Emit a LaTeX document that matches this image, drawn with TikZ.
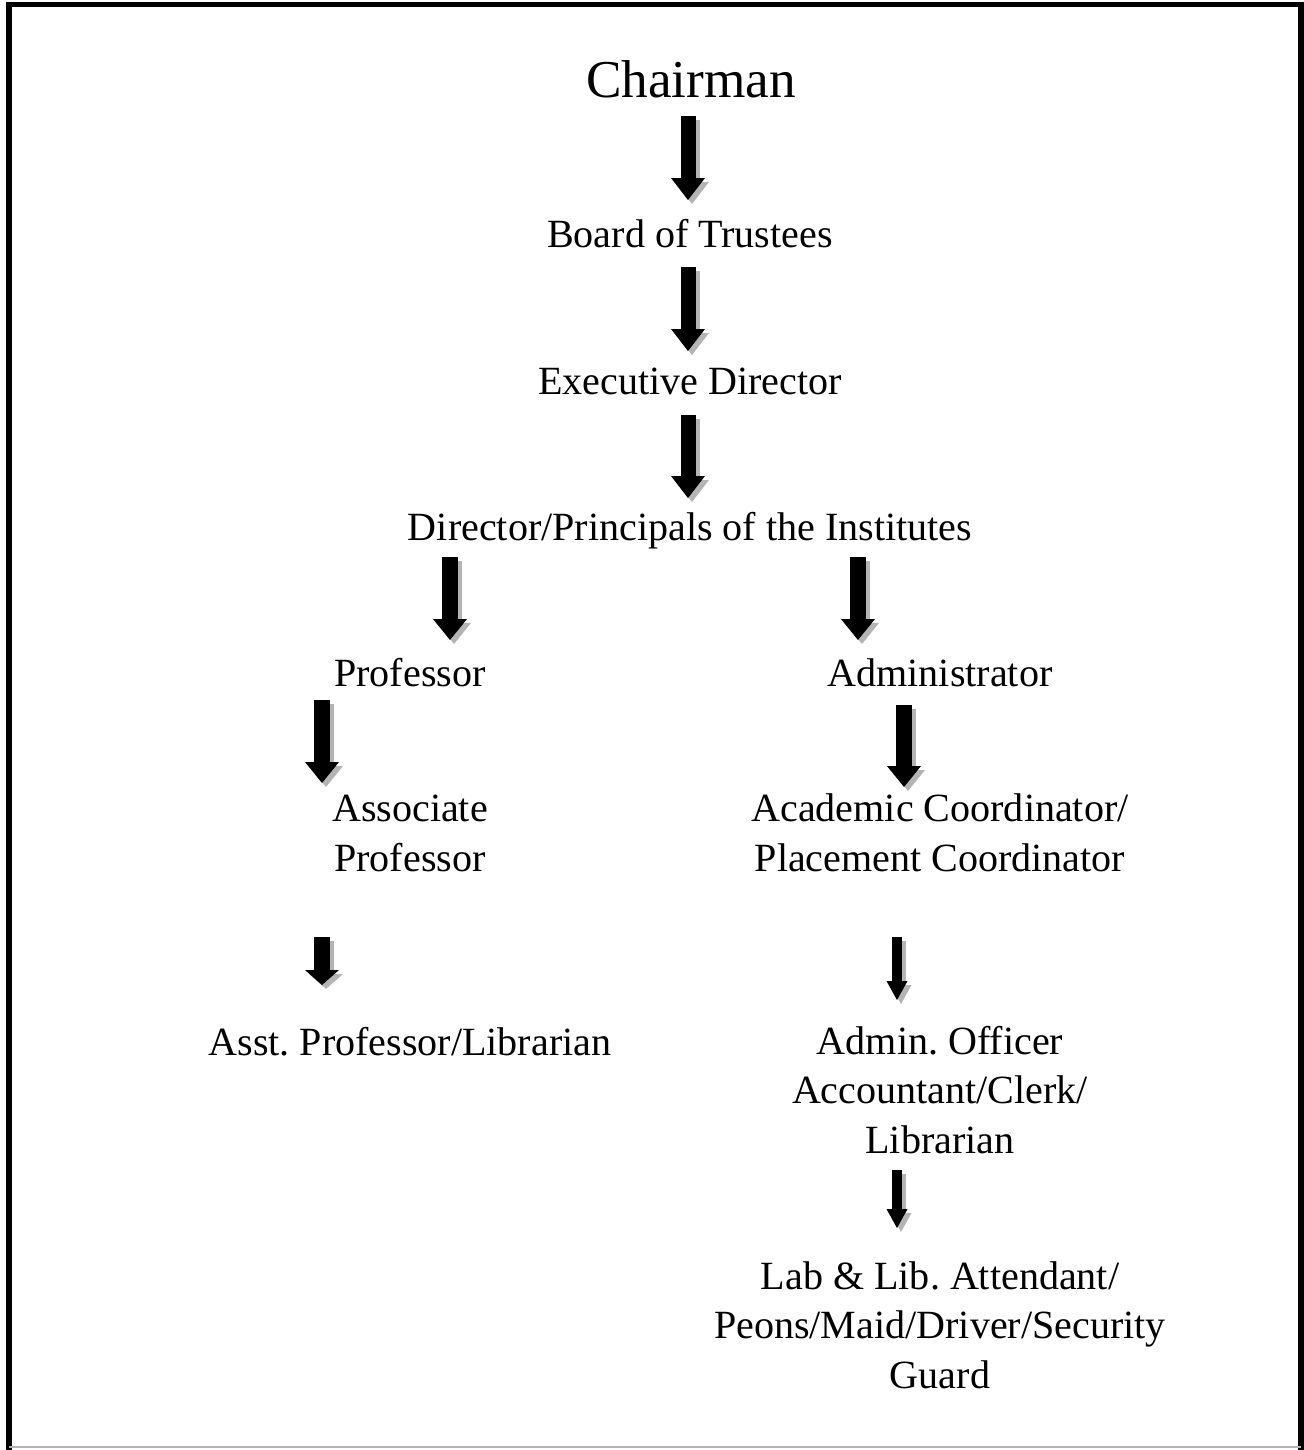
\documentclass[tikz,border=0pt]{standalone}
\usepackage{fontspec}
\setmainfont{Liberation Serif}
\frenchspacing
\usetikzlibrary{arrows.meta}
\usetikzlibrary{positioning}

\definecolor{dropgrey}{HTML}{B4B4B4}
\tikzset{
  post/.style={font=\fontsize{22.8}{27.9}\selectfont, align=center, inner sep=0pt, anchor=base},
  barrow/.style args={#1/#2/#3}{line width=#1, -{Triangle[width=#2, length=#3, line width=0pt]}},
}
% block arrow with its grey shadow: from, to, shaft, head width, head length
\newcommand{\blockarrow}[5]{%
  \draw[dropgrey, barrow=#3/#4/#5] ([shift={(4,4)}]#1) -- ([shift={(4,4)}]#2);
  \draw[black, barrow=#3/#4/#5] (#1) -- (#2);
}

\begin{document}
\begin{tikzpicture}[x=0.02cm, y=-0.02cm]
  \useasboundingbox (0,0) rectangle (1304,1450);
  % frame
  \draw[line width=3.4pt, line cap=rect] (9,1447) -- (9,4.5) -- (1301,4.5) -- (1301,1447);
  \draw[dropgrey, line width=1pt] (9,1447) -- (1301,1447);

  % posts (base = last line)
  \node[post, font=\fontsize{30.3}{36}\selectfont] (chair) at (691,97) {Chairman};
  \node[post] (board) at (690,247) {Board of Trustees};
  \node[post] (exec) at (690,394) {Executive Director};
  \node[post] (dir) at (690,540) {Director/Principals of the Institutes};
  \node[post] (prof) at (410,686) {Professor};
  \node[post] (admin) at (940,686) {Administrator};
  \node[post] (assoc) at (410,871) {Associate\\Professor};
  \node[post] (acad) at (940,871) {Academic Coordinator/\\Placement Coordinator};
  \node[post] (asst) at (410,1055) {Asst. Professor/Librarian};
  \node[post] (offr) at (940,1153) {Admin. Officer\\Accountant/Clerk/\\Librarian};
  \node[post] (lab) at (940,1388) {Lab \& Lib. Attendant/\\Peons/Maid/Driver/Security\\Guard};

  % arrow ends
  \coordinate (a1s) at (688,116);  \coordinate (a1e) at (688,200);
  \coordinate (a2s) at (688,267);  \coordinate (a2e) at (688,351);
  \coordinate (a3s) at (688,415);  \coordinate (a3e) at (688,498);
  \coordinate (a4s) at (450,557);  \coordinate (a4e) at (450,640);
  \coordinate (a5s) at (858,557);  \coordinate (a5e) at (858,640);
  \coordinate (a6s) at (322,700);  \coordinate (a6e) at (322,783);
  \coordinate (a7s) at (904,705);  \coordinate (a7e) at (904,787);
  \coordinate (a8s) at (322,937);  \coordinate (a8e) at (322,985);
  \coordinate (a9s) at (897,937);  \coordinate (a9e) at (897,1000);
  \coordinate (a10s) at (897,1170); \coordinate (a10e) at (897,1228);

  \blockarrow{a1s}{a1e}{0.3cm}{0.68cm}{0.44cm}
  \blockarrow{a2s}{a2e}{0.3cm}{0.68cm}{0.44cm}
  \blockarrow{a3s}{a3e}{0.3cm}{0.68cm}{0.44cm}
  \blockarrow{a4s}{a4e}{0.32cm}{0.68cm}{0.42cm}
  \blockarrow{a5s}{a5e}{0.32cm}{0.68cm}{0.42cm}
  \blockarrow{a6s}{a6e}{0.32cm}{0.68cm}{0.42cm}
  \blockarrow{a7s}{a7e}{0.32cm}{0.68cm}{0.42cm}
  \blockarrow{a8s}{a8e}{0.32cm}{0.68cm}{0.3cm}
  \blockarrow{a9s}{a9e}{0.2cm}{0.42cm}{0.38cm}
  \blockarrow{a10s}{a10e}{0.2cm}{0.42cm}{0.38cm}
\end{tikzpicture}
\end{document}
